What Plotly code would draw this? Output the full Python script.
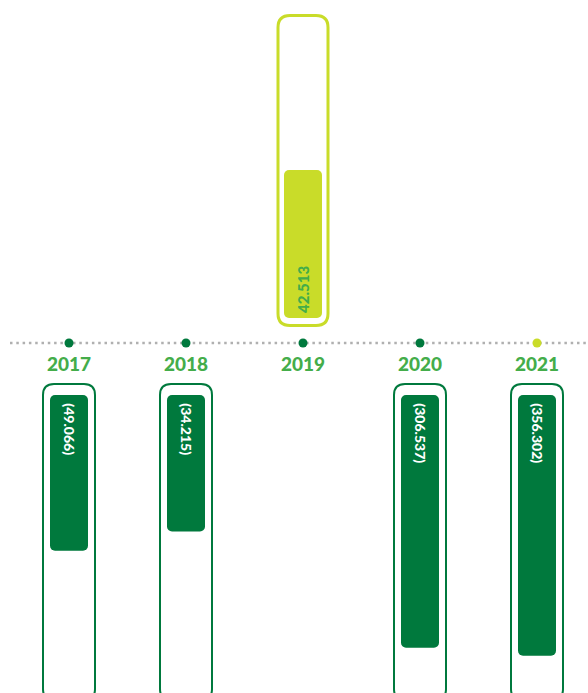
import math
import plotly.graph_objects as go

# ---- data -------------------------------------------------------------
years = ["2017", "2018", "2019", "2020", "2021"]
results = [-49.066, -34.215, 42.513, -306.537, -356.302]
value_labels = [f"({abs(v):.3f})" if v < 0 else f"{v:.3f}" for v in results]

# ---- styling ------------------------------------------------------------
W, H = 588, 693
DARK = "#00793d"
LIME = "#c9dc29"
YEAR_GREEN = "#44ad4a"
GREY = "#b0b0b0"
FONT = "Lato"
dot_colors = [DARK, DARK, DARK, DARK, LIME]

# horizontal geometry (pixels)
X0, STEP = 69, 117            # centre of first column, column spacing
BAR_W = 38 / STEP             # bar width in category units

# vertical geometry (pixels from top)
TIMELINE_Y = 343
UP_BASE = 318                 # where the upward bars start
DOWN_BASE = 395               # where the downward bars start
PX_PER_DECADE = 122           # log scale: pixels per factor of ten
FLOOR = 2.6                   # value sitting at each bar's base
lf = math.log10(FLOOR)

xs = list(range(len(years)))
pos = [(i, v) for i, v in enumerate(results) if v > 0]
neg = [(i, v) for i, v in enumerate(results) if v < 0]

fig = go.Figure()

# downward bars (losses)
fig.add_trace(go.Bar(
    x=[i for i, _ in neg],
    y=[abs(v) - FLOOR for _, v in neg],
    base=FLOOR,
    width=BAR_W,
    marker=dict(color=DARK, cornerradius=5, line=dict(width=0)),
    text=[" " + value_labels[i] for i, _ in neg],
    textposition="inside",
    insidetextanchor="start",
    textangle=90,
    textfont=dict(family=FONT, size=14, color="white", weight=900),
    yaxis="y",
    hoverinfo="skip",
    showlegend=False,
))

# upward bars (profits)
fig.add_trace(go.Bar(
    x=[i for i, _ in pos],
    y=[v - FLOOR for _, v in pos],
    base=FLOOR,
    width=BAR_W,
    marker=dict(color=LIME, cornerradius=5, line=dict(width=0)),
    text=[value_labels[i] for i, _ in pos],
    textposition="inside",
    insidetextanchor="start",
    textangle=-90,
    textfont=dict(family=FONT, size=15, color=YEAR_GREEN, weight=900),
    yaxis="y2",
    hoverinfo="skip",
    showlegend=False,
))

# timeline dots
fig.add_trace(go.Scatter(
    x=xs, y=[0] * len(xs),
    mode="markers",
    marker=dict(size=9, color=dot_colors, line=dict(width=0)),
    yaxis="y3",
    hoverinfo="skip",
    showlegend=False,
))


def rounded_rect(i, half_w, top, bottom, r):
    """Rounded rectangle path: x in category units, y in paper units."""
    xl, xr = i - half_w / STEP, i + half_w / STEP
    rx = r / STEP
    yt, yb = 1 - top / H, 1 - bottom / H
    ry = r / H
    return (f"M {xl + rx},{yt} L {xr - rx},{yt} Q {xr},{yt} {xr},{yt - ry} "
            f"L {xr},{yb + ry} Q {xr},{yb} {xr - rx},{yb} "
            f"L {xl + rx},{yb} Q {xl},{yb} {xl},{yb + ry} "
            f"L {xl},{yt - ry} Q {xl},{yt} {xl + rx},{yt} Z")


shapes = [dict(
    type="line", xref="paper", yref="y3",
    x0=10 / W, x1=1, y0=0, y1=0,
    line=dict(color=GREY, width=2.5, dash="2.5px,3.8px"),
    layer="below",
)]
for i, v in enumerate(results):
    if v < 0:
        shapes.append(dict(type="path", xref="x", yref="paper",
                           path=rounded_rect(i, 26, 384, 700, 11),
                           line=dict(color=DARK, width=2), layer="below"))
    else:
        shapes.append(dict(type="path", xref="x", yref="paper",
                           path=rounded_rect(i, 25, 15.5, 325.5, 12),
                           line=dict(color=LIME, width=3), layer="below"))

down_span = (H - DOWN_BASE) / PX_PER_DECADE
up_span = UP_BASE / PX_PER_DECADE

fig.update_layout(
    width=W, height=H,
    margin=dict(l=0, r=0, t=0, b=0),
    paper_bgcolor="white", plot_bgcolor="rgba(0,0,0,0)",
    barmode="overlay",
    shapes=shapes,
    xaxis=dict(
        range=[-X0 / STEP, (W - X0) / STEP],
        tickvals=xs, ticktext=years,
        tickfont=dict(family=FONT, size=19, color=YEAR_GREEN, weight=900),
        anchor="free", position=1 - 351 / H,
        showgrid=False, zeroline=False, showline=False, ticks="",
        fixedrange=True,
    ),
    yaxis=dict(
        type="log", domain=[0, 1 - DOWN_BASE / H],
        range=[lf + down_span, lf],
        visible=False, fixedrange=True,
    ),
    yaxis2=dict(
        type="log", domain=[1 - UP_BASE / H, 1],
        range=[lf, lf + up_span],
        visible=False, fixedrange=True,
    ),
    yaxis3=dict(
        domain=[0, 1], range=[-(H - TIMELINE_Y), TIMELINE_Y],
        visible=False, fixedrange=True,
    ),
)

fig.write_html("out.html")
